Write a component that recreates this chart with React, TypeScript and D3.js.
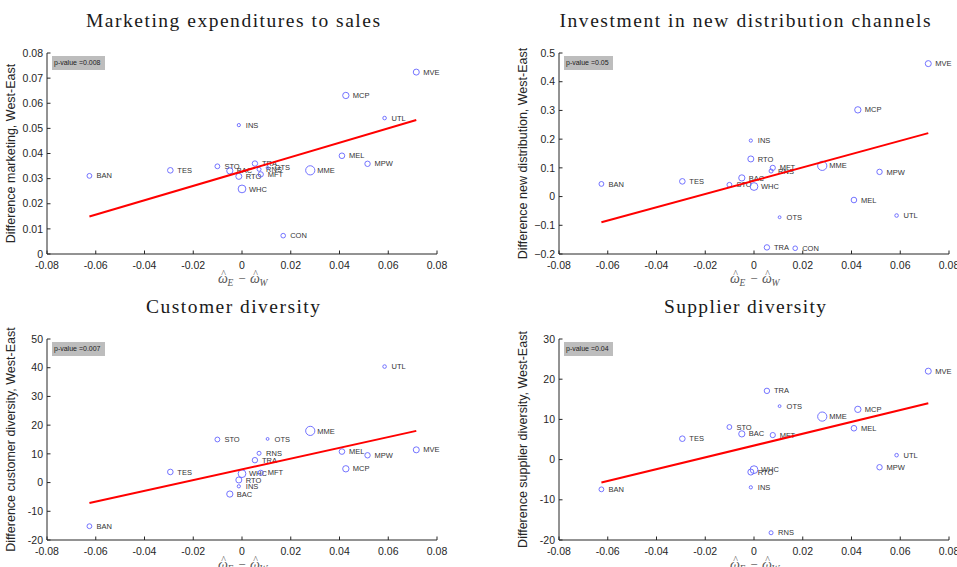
import React from "react";
import * as d3 from "d3";

const firms = ["BAN","TES","STO","BAC","RTO","INS","WHC","TRA","RNS","MFT","OTS","CON","MME","MEL","MCP","MPW","UTL","MVE"];
const omegaDiff = [-0.0626,-0.0294,-0.0101,-0.0050,-0.0013,-0.0013,0.0000,0.0053,0.0070,0.0077,0.0105,0.0169,0.0280,0.0410,0.0426,0.0515,0.0585,0.0715];
const weights = [5.8,7.8,5.8,9.6,9,2.6,15,7.3,4,6.8,2,5.3,21,7.8,10,7.3,3.2,9];

const marketing = [0.0311,0.0333,0.0349,0.0331,0.0309,0.0513,0.0259,0.0360,0.0337,0.0317,0.0343,0.0073,0.0333,0.0391,0.0631,0.0359,0.0541,0.0724];
const distribution = [0.044,0.053,0.041,0.065,0.131,0.195,0.035,-0.177,0.089,0.100,-0.072,-0.180,0.107,-0.012,0.302,0.086,-0.066,0.463];
const customer = [-15.2,3.7,15.0,-4.0,0.9,-1.3,3.1,7.8,10.2,3.4,15.2,NaN,18.0,10.8,4.8,9.5,40.4,11.4];
const supplier = [-7.4,5.2,8.1,6.4,-3.1,-6.9,-2.5,17.1,-18.2,6.1,13.3,NaN,10.7,7.8,12.5,-1.9,1.1,22.0];

const fitMarketing = [0.0149,0.0533];
const fitDistribution = [-0.0895,0.221];
const fitCustomer = [-7.1,18.0];
const fitSupplier = [-5.7,14.0];

const xTicks = [-0.08,-0.06,-0.04,-0.02,0,0.02,0.04,0.06,0.08];

const panels = [
  { title: "Marketing expenditures to sales", ylabel: "Difference marketing, West-East", values: marketing, fit: fitMarketing, yDomain: [0,0.08], yTicks: [0,0.01,0.02,0.03,0.04,0.05,0.06,0.07,0.08], pval: "p-value =0.008", fmt: (v: number) => v === 0 ? "0" : d3.format(".2f")(v) },
  { title: "Investment in new distribution channels", ylabel: "Difference new distribution, West-East", values: distribution, fit: fitDistribution, yDomain: [-0.2,0.5], yTicks: [-0.2,-0.1,0,0.1,0.2,0.3,0.4,0.5], pval: "p-value =0.05", fmt: (v: number) => v === 0 ? "0" : d3.format(".1f")(v) },
  { title: "Customer diversity", ylabel: "Difference customer diversity, West-East", values: customer, fit: fitCustomer, yDomain: [-20,50], yTicks: [-20,-10,0,10,20,30,40,50], pval: "p-value =0.007", fmt: (v: number) => String(v) },
  { title: "Supplier diversity", ylabel: "Difference supplier diversity, West-East", values: supplier, fit: fitSupplier, yDomain: [-20,30], yTicks: [-20,-10,0,10,20,30], pval: "p-value =0.04", fmt: (v: number) => String(v) },
];

const W = 957, H = 567;
const PW = 390, PH = 201;
const origins = [[47,53],[559,53],[47,339],[559,339]];
const titleX = [233, 745, 233, 745];
const titleLen = [294, 371, 174, 162];
const sans = "'Liberation Sans', Arial, sans-serif";
const serif = "'Liberation Serif', 'Times New Roman', serif";
const axisColor = "#262626";

const xFmt = (v: number) => v === 0 ? "0" : d3.format(".2f")(v).replace("\u2212", "-");
const rScale = d3.scaleSqrt().domain([0, d3.max(weights) as number]).range([0, 4.6]);

function OmegaHat({ x, y, sub }: { x: number; y: number; sub: string }) {
  return (
    <g>
      <text x={x} y={y} fontFamily={serif} fontStyle="italic" fontSize={14} fill="#555">{"\u03C9"}</text>
      <text x={x + 5.5} y={y - 6.5} textAnchor="middle" fontFamily={serif} fontSize={10} fill="#555">{"^"}</text>
      <text x={x + 9.5} y={y + 3} fontFamily={serif} fontStyle="italic" fontSize={9.5} fill="#555">{sub}</text>
    </g>
  );
}

function Panel({ idx }: { idx: number }) {
  const p = panels[idx];
  const [ox, oy] = origins[idx];
  const x = d3.scaleLinear().domain([-0.08, 0.08]).range([ox, ox + PW]);
  const y = d3.scaleLinear().domain(p.yDomain).range([oy + PH, oy]);
  const xMin = d3.min(omegaDiff) as number;
  const xMax = d3.max(omegaDiff) as number;
  const line = d3.line<[number, number]>().x(d => x(d[0])).y(d => y(d[1]));
  const fitPts: [number, number][] = [[xMin, p.fit[0]], [xMax, p.fit[1]]];
  const pvW = p.pval.length > 13 ? 53 : 49;
  const lx = ox + PW / 2;
  const ly = oy + PH + 29;
  return (
    <g>
      <text x={titleX[idx]} y={oy - 26} textAnchor="middle" fontFamily={serif} fontSize={19.5} fill="#1a1a1a" textLength={titleLen[idx]} lengthAdjust="spacing">{p.title}</text>
      <line x1={ox} x2={ox} y1={oy} y2={oy + PH} stroke={axisColor} strokeWidth={1} />
      <line x1={ox} x2={ox + PW} y1={oy + PH} y2={oy + PH} stroke={axisColor} strokeWidth={1} />
      {p.yTicks.map(t => (
        <g key={"y" + t}>
          <line x1={ox} x2={ox + 3.5} y1={y(t)} y2={y(t)} stroke={axisColor} strokeWidth={1} />
          <text x={ox - 4} y={y(t)} dy="0.35em" textAnchor="end" fontFamily={sans} fontSize={10.5} fill={axisColor}>{p.fmt(t)}</text>
        </g>
      ))}
      {xTicks.map(t => (
        <g key={"x" + t}>
          <line x1={x(t)} x2={x(t)} y1={oy + PH} y2={oy + PH - 3.5} stroke={axisColor} strokeWidth={1} />
          <text x={x(t)} y={oy + PH + 11} dy="0.35em" textAnchor="middle" fontFamily={sans} fontSize={10.5} fill={axisColor}>{xFmt(t)}</text>
        </g>
      ))}
      <text transform={`translate(${ox - 32},${oy + PH / 2}) rotate(-90)`} textAnchor="middle" fontFamily={sans} fontSize={12.5} fill={axisColor}>{p.ylabel}</text>
      <OmegaHat x={lx - 24} y={ly} sub="E" />
      <text x={lx} y={ly} textAnchor="middle" fontFamily={serif} fontSize={13} fill="#555">{"\u2212"}</text>
      <OmegaHat x={lx + 8} y={ly} sub="W" />
      <rect x={ox + 5} y={oy + 3} width={pvW} height={14} fill="#bdbdbd" />
      <text x={ox + 7} y={oy + 10} dy="0.35em" fontFamily={sans} fontSize={7} fill="#222">{p.pval}</text>
      {firms.map((f, i) => {
        const v = p.values[i];
        if (!isFinite(v)) return null;
        return (
          <g key={f}>
            <circle cx={x(omegaDiff[i])} cy={y(v)} r={rScale(weights[i])} fill="none" stroke="#6464ff" strokeWidth={0.9} />
            <text x={x(omegaDiff[i]) + 7} y={y(v)} dy="0.35em" fontFamily={sans} fontSize={7.5} fill="#333">{f}</text>
          </g>
        );
      })}
      <path d={line(fitPts) as string} stroke="#ff0000" strokeWidth={2} fill="none" />
    </g>
  );
}

export default function App() {
  return (
    <svg width={W} height={H} style={{ position: "absolute", left: 0, top: 0, background: "#fff" }}>
      <rect width={W} height={H} fill="#fff" />
      {[0, 1, 2, 3].map(i => <Panel key={i} idx={i} />)}
    </svg>
  );
}
